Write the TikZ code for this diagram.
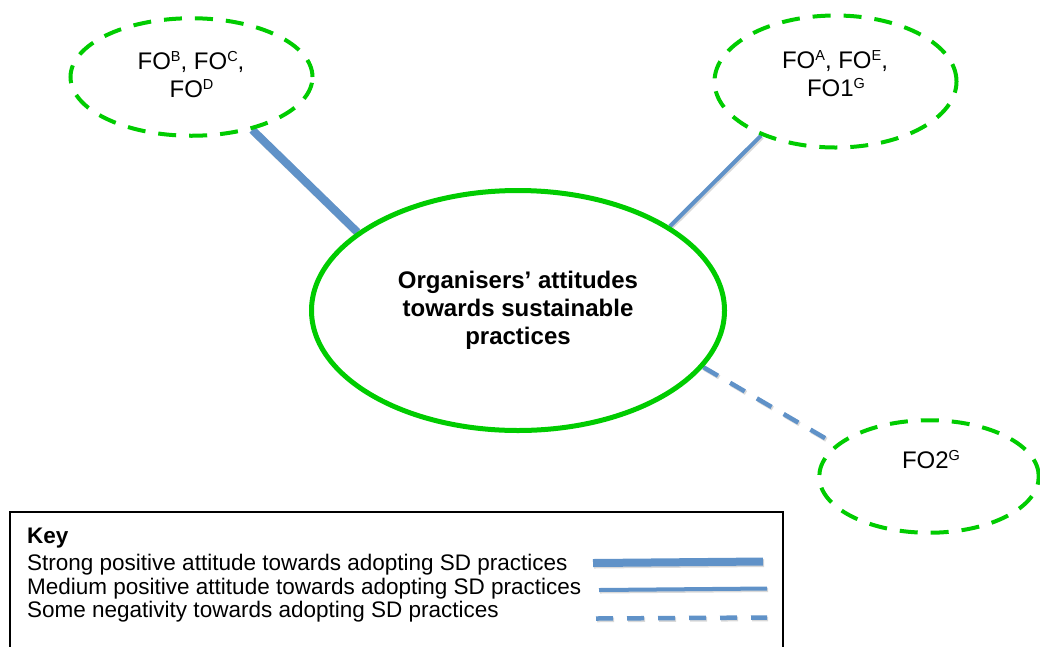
\documentclass[tikz,border=0pt]{standalone}
\usepackage{fontspec}
\setmainfont{Liberation Sans}
\usetikzlibrary{shapes.geometric}
\definecolor{ringgreen}{RGB}{0,204,0}
\definecolor{linkblue}{RGB}{96,146,200}
\newcommand\supx[1]{\raisebox{8pt}{\fontsize{14.5}{14.5}\selectfont #1}}
\pgfdeclarelayer{bglayer}
\pgfsetlayers{bglayer,main}
\begin{document}
\begin{tikzpicture}[x=1pt,y=-1pt,
  mainell/.style={ellipse, draw=ringgreen, line width=5pt, inner sep=0pt,
    minimum width=413pt, minimum height=240pt, align=center,
    font=\fontsize{24}{28}\selectfont\bfseries},
  dashell/.style={ellipse, draw=ringgreen, line width=4pt,
    dash pattern=on 18pt off 13pt, inner sep=0pt},
  fotext/.style={anchor=base, font=\fontsize{24}{28}\selectfont, inner sep=0pt},
  keytext/.style={anchor=base west, font=\fontsize{22.5}{26}\selectfont, inner sep=0pt},
  stronglink/.style={draw=linkblue, line width=8pt,
    preaction={draw=black, opacity=0.15, line width=8pt,
      transform canvas={shift={(1.2pt,-1.5pt)}}}},
  mediumlink/.style={draw=linkblue, line width=4pt,
    preaction={draw=black, opacity=0.15, line width=4pt,
      transform canvas={shift={(1.2pt,-1.5pt)}}}},
  weaklink/.style={draw=linkblue, line width=4.5pt, dash pattern=on 17pt off 14pt,
    preaction={draw=black, opacity=0.15, line width=4.5pt, dash pattern=on 17pt off 14pt,
      transform canvas={shift={(1.2pt,-1.5pt)}}}},
]
\useasboundingbox (0,0) rectangle (1040,646);

% main ellipse
\node[mainell] (main) at (518,310.5) {Organisers’ attitudes\\towards sustainable\\practices};

% satellite ellipses
\node[dashell, minimum width=242pt, minimum height=117.5pt] (fo1) at (191.5,77) {};
\node[fotext] (fo1a) at (191,69.5) {FO\supx{B}, FO\supx{C},};
\node[fotext] (fo1b) at (191.5,97.5) {FO\supx{D}};

\node[dashell, minimum width=242pt, minimum height=132pt] (fo3) at (835.5,81.5) {};
\node[fotext] (fo3a) at (835,68.5) {FO\supx{A}, FO\supx{E},};
\node[fotext] (fo3b) at (836,96.5) {FO1\supx{G}};

\node[dashell, minimum width=219.5pt, minimum height=112.5pt] (fo4) at (929,476.5) {};
\node[fotext] (fo4a) at (931,468) {FO2\supx{G}};

% connectors (under the ellipses)
\begin{pgfonlayer}{bglayer}
\draw[stronglink] (fo1.-41) -- (main.154);
\draw[mediumlink] (fo3.216) -- (main.29);
\draw[weaklink, shorten >=11pt] (main.-17) -- (fo4.161);
\end{pgfonlayer}

% key
\draw[black, line width=1.5pt] (10,512) rectangle (783,670);
\node[keytext, font=\fontsize{22.5}{26}\selectfont\bfseries] (keyt) at (27,543) {Key};
\node[keytext] (k1) at (27,570) {Strong positive attitude towards adopting SD practices};
\node[keytext] (k2) at (27,594) {Medium positive attitude towards adopting SD practices};
\node[keytext] (k3) at (27,617.5) {Some negativity towards adopting SD practices};

\coordinate (s1a) at (593,563);
\coordinate (s1b) at (763,561.5);
\coordinate (s2a) at (599,590);
\coordinate (s2b) at (767,588.5);
\coordinate (s3a) at (596,618.5);
\coordinate (s3b) at (767,617.5);
\draw[stronglink] (s1a) -- (s1b);
\draw[mediumlink] (s2a) -- (s2b);
\draw[weaklink] (s3a) -- (s3b);
\end{tikzpicture}
\end{document}
